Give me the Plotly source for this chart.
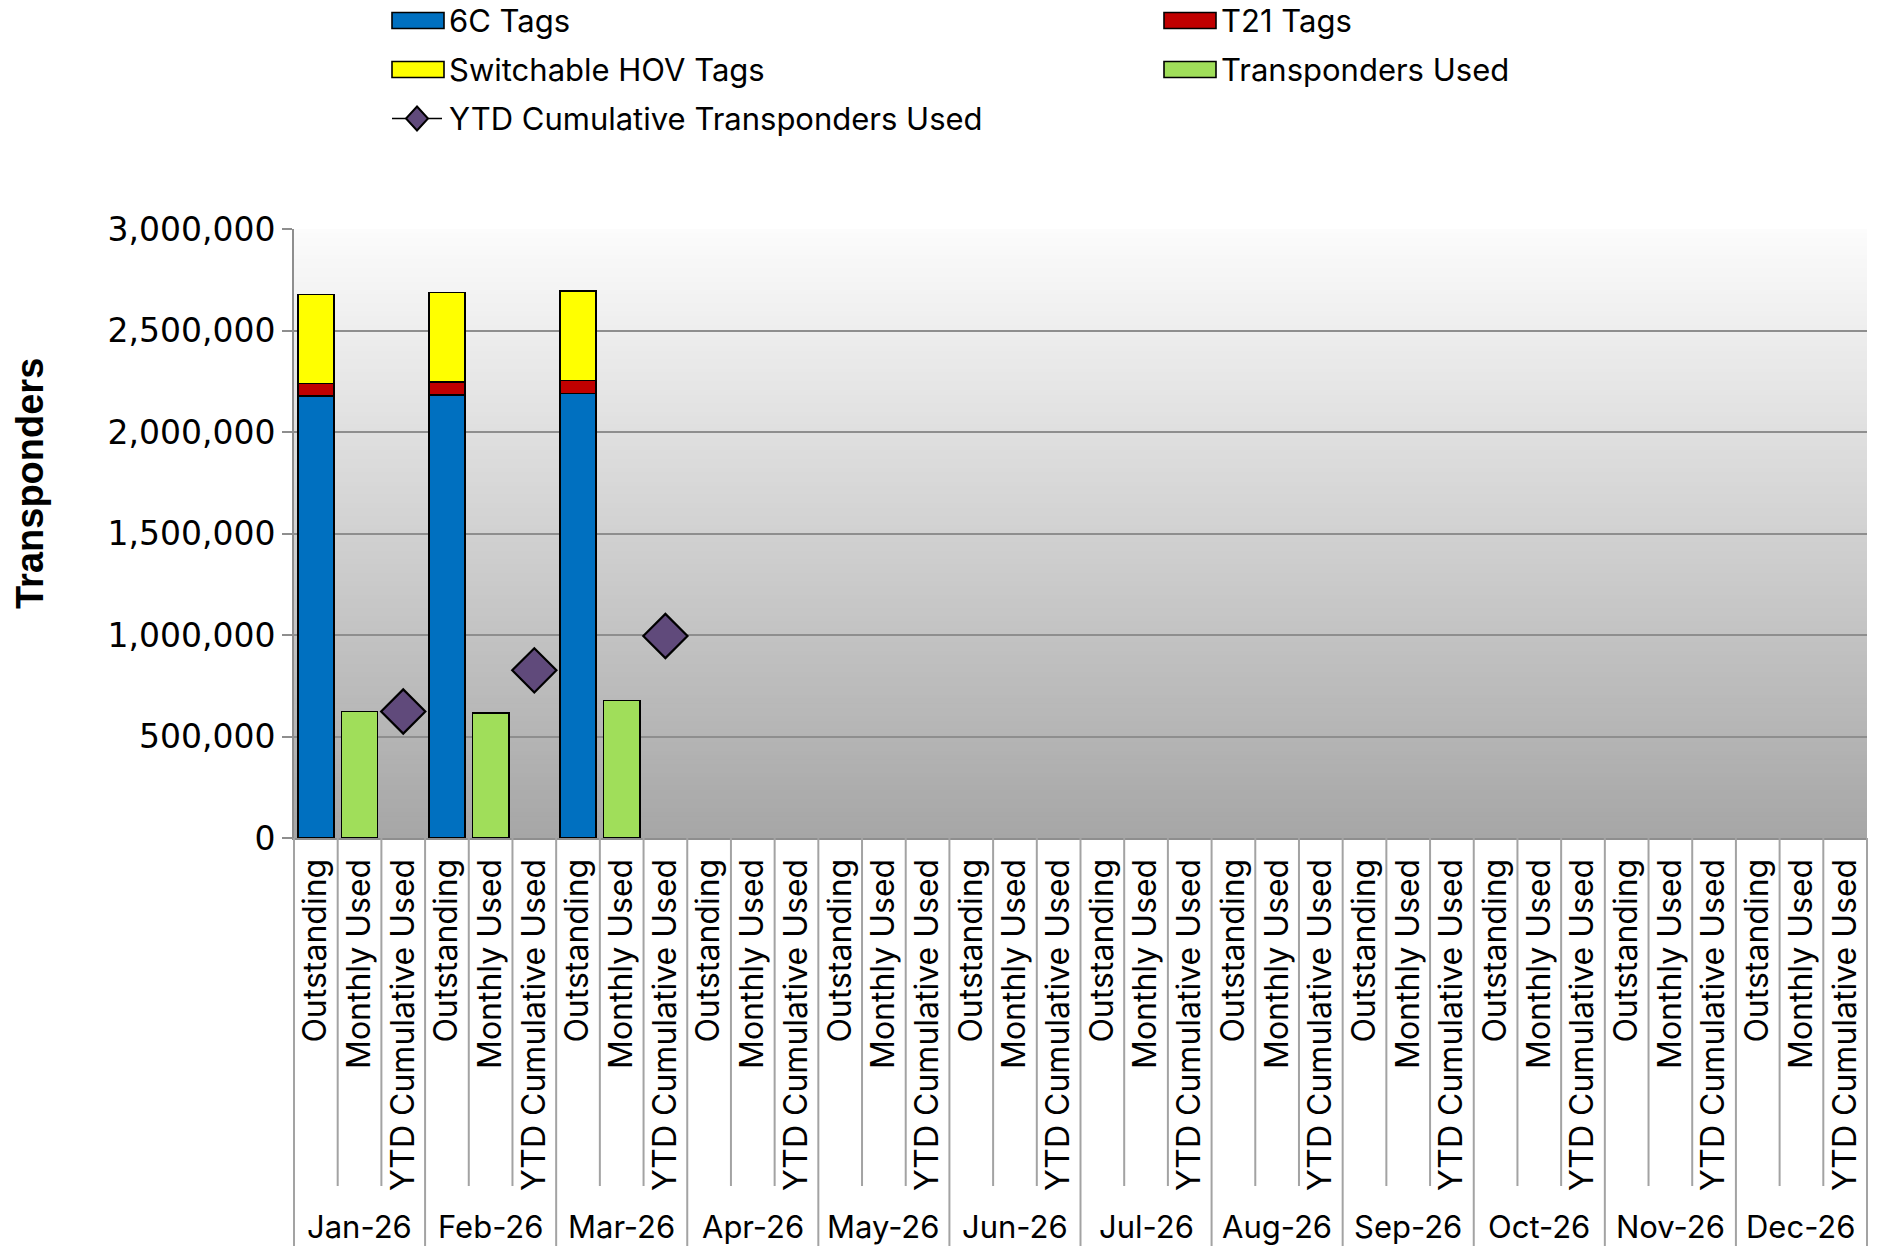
import plotly.graph_objects as go

# ---- data -------------------------------------------------------------
months = ["Jan-26", "Feb-26", "Mar-26", "Apr-26", "May-26", "Jun-26",
          "Jul-26", "Aug-26", "Sep-26", "Oct-26", "Nov-26", "Dec-26"]
measures = ["Outstanding", "Monthly Used", "YTD Cumulative Used"]

tags_6c = [2176000, 2183000, 2190000, None, None, None,
           None, None, None, None, None, None]
tags_t21 = [63000, 64000, 64000, None, None, None,
            None, None, None, None, None, None]
tags_hov = [439000, 440000, 441000, None, None, None,
            None, None, None, None, None, None]
transponders_used = [623000, 616000, 678000, None, None, None,
                     None, None, None, None, None, None]
ytd_cumulative_used = [623000, 826000, 995000, None, None, None,
                       None, None, None, None, None, None]

y_ticks = [0, 500000, 1000000, 1500000, 2000000, 2500000, 3000000]

# ---- layout geometry --------------------------------------------------
W, H = 1879, 1246
ML, MR, MT, MB = 294, 12, 229, 408
PW, PH = W - ML - MR, H - MT - MB

FONT = "Inter, Liberation Sans, Arial, sans-serif"
NUM_FONT = "DejaVu Sans, Verdana, sans-serif"
AXIS_GRAY = "#8E8E8E"
LINE_GRAY = "#A3A3A3"


def px_x(px):
    return (px - ML) / PW


def px_y(py):
    return (H - MB - py) / PH


n_sub = len(measures)
n_cat = len(months) * n_sub
cat_pos = list(range(n_cat))
cat_text = [m for _ in months for m in measures]
x_outstanding = [i * n_sub + 0 for i in range(len(months))]
x_monthly = [i * n_sub + 1 for i in range(len(months))]
x_ytd = [i * n_sub + 2 for i in range(len(months))]

BAR_W = 0.83
outline = dict(color="#000000", width=1.6)

fig = go.Figure()
fig.add_trace(go.Bar(name="6C Tags", x=x_outstanding, y=tags_6c, width=BAR_W,
                     marker=dict(color="#0070C0", line=outline)))
fig.add_trace(go.Bar(name="T21 Tags", x=x_outstanding, y=tags_t21, width=BAR_W,
                     marker=dict(color="#C00000", line=outline)))
fig.add_trace(go.Bar(name="Switchable HOV Tags", x=x_outstanding, y=tags_hov, width=BAR_W,
                     marker=dict(color="#FFFF00", line=outline)))
fig.add_trace(go.Bar(name="Transponders Used", x=x_monthly, y=transponders_used, width=BAR_W,
                     marker=dict(color="#A0DE5A", line=outline)))
fig.add_trace(go.Scatter(name="YTD Cumulative Transponders Used", x=x_ytd, y=ytd_cumulative_used,
                         mode="markers",
                         marker=dict(symbol="diamond", size=34, color="#604A7B",
                                     line=dict(color="#000000", width=2.2))))

shapes = []

# vertical gradient behind the plot area
N_STRIPES = 140
TOP_GRAY, BOTTOM_GRAY = 252, 166
for i in range(N_STRIPES):
    f0 = i / N_STRIPES
    f1 = (i + 1) / N_STRIPES
    t = (f0 + f1) / 2
    g = round(BOTTOM_GRAY + (TOP_GRAY - BOTTOM_GRAY) * t)
    shapes.append(dict(type="rect", xref="paper", yref="paper", x0=0, x1=1,
                       y0=f0, y1=min(1, f1 + 0.003), layer="below",
                       fillcolor=f"rgb({g},{g},{g})", line=dict(width=0)))

# category separators below the axis; month separators run to the bottom edge
inner_bottom = px_y(1186)
outer_bottom = px_y(H)
for k in range(n_cat + 1):
    bottom = outer_bottom if k % n_sub == 0 else inner_bottom
    xf = k / n_cat
    shapes.append(dict(type="line", xref="paper", yref="paper", x0=xf, x1=xf,
                       y0=0, y1=bottom, line=dict(color=LINE_GRAY, width=2)))

annotations = []

# month labels
for i, m in enumerate(months):
    annotations.append(dict(text=m, x=i * n_sub + 1, xref="x", y=px_y(1226), yref="paper",
                            showarrow=False, xanchor="center", yanchor="middle",
                            font=dict(family=FONT, size=31, color="#000000")))

# y-axis title
annotations.append(dict(text="<b>Transponders</b>", x=px_x(30), xref="paper",
                        y=px_y(484), yref="paper", textangle=-90, showarrow=False,
                        xanchor="center", yanchor="middle",
                        font=dict(family="Liberation Sans, Arial, sans-serif", size=38,
                                  color="#000000")))

# legend
LEGEND_SIZE = 31
legend_rows = [
    ("6C Tags", "#0070C0", 392, 20.5),
    ("Switchable HOV Tags", "#FFFF00", 392, 69.5),
    ("T21 Tags", "#C00000", 1164, 20.5),
    ("Transponders Used", "#A0DE5A", 1164, 69.5),
]
for label, color, x0, yc in legend_rows:
    shapes.append(dict(type="rect", xref="paper", yref="paper",
                       x0=px_x(x0), x1=px_x(x0 + 52), y0=px_y(yc - 8), y1=px_y(yc + 8),
                       fillcolor=color, line=dict(color="#000000", width=1.6)))
    annotations.append(dict(text=label, x=px_x(x0 + 55), xref="paper", y=px_y(yc), yref="paper",
                            showarrow=False, xanchor="left", yanchor="middle",
                            font=dict(family=FONT, size=LEGEND_SIZE, color="#000000")))

yc = 118.5
shapes.append(dict(type="line", xref="paper", yref="paper",
                   x0=px_x(392), x1=px_x(442), y0=px_y(yc), y1=px_y(yc),
                   line=dict(color="#000000", width=1.5)))
dx, dy = 11, 12
cx = 417
diamond = (f"M {px_x(cx)} {px_y(yc - dy)} L {px_x(cx + dx)} {px_y(yc)} "
           f"L {px_x(cx)} {px_y(yc + dy)} L {px_x(cx - dx)} {px_y(yc)} Z")
shapes.append(dict(type="path", xref="paper", yref="paper", path=diamond,
                   fillcolor="#604A7B", line=dict(color="#000000", width=2)))
annotations.append(dict(text="YTD Cumulative Transponders Used", x=px_x(447), xref="paper",
                        y=px_y(yc), yref="paper", showarrow=False, xanchor="left",
                        yanchor="middle", font=dict(family=FONT, size=LEGEND_SIZE, color="#000000")))

fig.update_layout(
    width=W, height=H,
    margin=dict(l=ML, r=MR, t=MT, b=MB, autoexpand=False),
    paper_bgcolor="#FFFFFF",
    plot_bgcolor="rgba(0,0,0,0)",
    barmode="stack",
    showlegend=False,
    shapes=shapes,
    annotations=annotations,
    font=dict(family=FONT, color="#000000"),
)

fig.update_xaxes(
    type="linear", range=[-0.5, n_cat - 0.5], tickmode="array",
    tickvals=cat_pos, ticktext=cat_text, tickangle=-90,
    tickfont=dict(family=FONT, size=32, color="#000000"),
    ticks="", ticklabelstandoff=6, showgrid=False, zeroline=False,
    showline=True, linecolor=AXIS_GRAY, linewidth=2,
    automargin=False, fixedrange=True,
)

fig.update_yaxes(
    range=[0, 3000000], tickmode="array", tickvals=y_ticks, tickformat=",d",
    tickfont=dict(family=NUM_FONT, size=33, color="#000000"),
    ticks="outside", ticklen=10, tickcolor=AXIS_GRAY, tickwidth=2,
    showgrid=True, gridcolor=AXIS_GRAY, gridwidth=1.6, zeroline=False,
    showline=True, linecolor=AXIS_GRAY, linewidth=2,
    automargin=False, fixedrange=True,
)

fig.write_html("out.html")
